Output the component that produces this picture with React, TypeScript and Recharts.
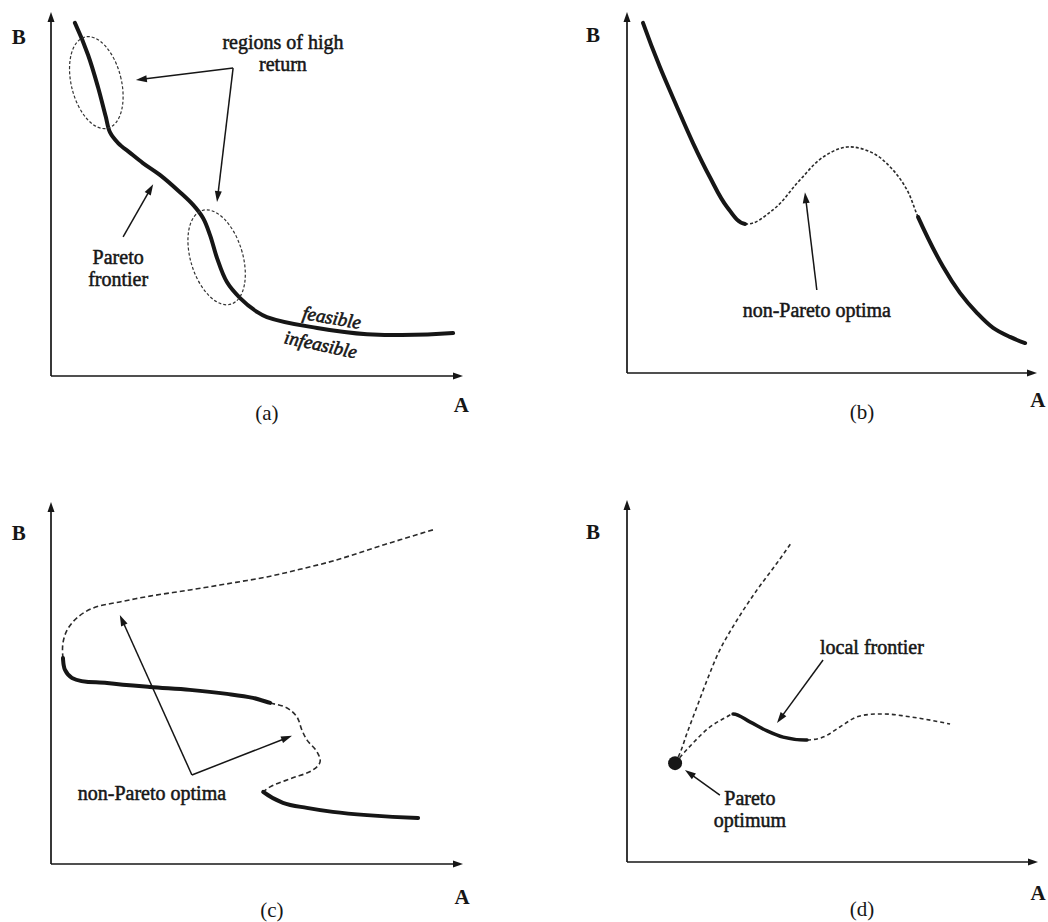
import React from 'react';
import { ComposedChart, Line, Scatter, XAxis, YAxis, ReferenceLine, ReferenceDot } from 'recharts';

// all values in axis units: 0 = origin, 100 = arrow tip of each axis

// (a)
const aFrontier = [
  [5.8, 97.0], [9.0, 88.2], [11.4, 79.4], [13.3, 71.2], [14.3, 67.0], [16.3, 64.0], [19.2, 61.3],
  [22.3, 58.5], [26.5, 55.2], [31.3, 50.5], [34.5, 47.0], [36.9, 43.4], [38.6, 38.7], [40.3, 32.4],
  [42.7, 25.8], [45.9, 21.4], [50.0, 17.6], [52.4, 16.2], [64.6, 13.2], [76.7, 11.5], [97.6, 11.8],
];
const aRegions = [[11.0, 80.6], [40.2, 32.6]];
const aArrows = [
  [[44.2, 84.6], [20.6, 81.3]],
  [[44.2, 84.6], [40.3, 47.8]],
  [[17.5, 38.2], [24.8, 52.7]],
];
const aLabels = [
  { x: -7.8, y: 93.1, text: ['B'], kind: 'axis' },
  { x: 99.6, y: -8.0, text: ['A'], kind: 'axis' },
  { x: 52.4, y: -10.2, text: ['(a)'], kind: 'caption' },
  { x: 56.3, y: 91.8, text: ['regions of high', 'return'], kind: 'note' },
  { x: 16.3, y: 32.7, text: ['Pareto', 'frontier'], kind: 'note' },
  { x: 68.2, y: 16.2, text: ['feasible'], kind: 'side' },
  { x: 65.5, y: 8.8, text: ['infeasible'], kind: 'side2' },
];

// (b) one curve: solid 0-6, dashed 6-14, solid 14-20
const bCurve = [
  [3.9, 97.0], [8.0, 84.8], [12.2, 73.7], [16.1, 63.7], [20.2, 54.3], [24.4, 46.0], [28.8, 41.3],
  [35.6, 45.2], [42.2, 53.5], [47.8, 59.8], [53.7, 62.6], [60.0, 60.9], [64.9, 56.2], [68.3, 50.7], [71.0, 43.2],
  [77.1, 29.4], [81.2, 22.2], [85.4, 16.6], [89.3, 12.5], [93.4, 10.0], [97.1, 8.3],
];
const bSolid = [[0, 6], [14, 20]];
const bDashed = [[6, 14]];
const bArrows = [[[46.3, 23.0], [43.4, 50.1]]];
const bLabels = [
  { x: -8.3, y: 93.6, text: ['B'], kind: 'axis' },
  { x: 100.2, y: -7.5, text: ['A'], kind: 'axis' },
  { x: 57.3, y: -10.8, text: ['(b)'], kind: 'caption' },
  { x: 46.3, y: 17.5, text: ['non-Pareto optima'], kind: 'note' },
];

// (c) upper branch (dashed 0-13), top frontier (solid 13-21), fold (dashed 21-31)
const cCurve = [
  [92.7, 92.3], [80.6, 88.1], [68.4, 83.7], [60.4, 81.4], [52.4, 79.3], [45.9, 78.0], [33.7, 75.7],
  [24.0, 74.0], [16.7, 72.4], [10.2, 70.7], [6.3, 68.0], [3.9, 64.6], [2.9, 61.0], [2.9, 56.9],
  [3.4, 53.6], [5.1, 51.4], [13.6, 50.0], [24.0, 48.9], [33.7, 48.1], [42.7, 47.0], [49.0, 45.9], [53.2, 44.5],
  [57.3, 43.1], [59.7, 40.6], [60.9, 37.0], [62.1, 34.3], [64.6, 30.9], [65.3, 28.2], [63.6, 26.0],
  [58.7, 23.8], [53.2, 21.3], [51.5, 19.9],
];
const cSolid = [[13, 21]];
const cDashed = [[0, 13], [21, 31]];
const cBottom = [[51.5, 19.9], [56.3, 16.9], [62.1, 15.5], [68.4, 14.4], [76.7, 13.5], [89.1, 12.7]];
const cArrows = [
  [[34.2, 24.6], [16.7, 68.8]],
  [[34.2, 24.6], [58.5, 35.4]],
];
const cLabels = [
  { x: -7.8, y: 91.4, text: ['B'], kind: 'axis' },
  { x: 99.8, y: -9.1, text: ['A'], kind: 'axis' },
  { x: 53.6, y: -12.6, text: ['(c)'], kind: 'caption' },
  { x: 24.5, y: 19.6, text: ['non-Pareto optima'], kind: 'note' },
];

// (d)
const dOptimum = [[11.7, 27.3]];
const dUpper = [[11.7, 27.3], [12.9, 30.1], [14.6, 35.6], [17.0, 42.8], [19.5, 50.3], [22.6, 58.6], [26.8, 66.9], [31.6, 75.1], [36.5, 82.6], [40.1, 88.4]];
// lower branch: dashed 0-4, local frontier solid 4-8, dashed 8-14
const dLower = [
  [11.7, 27.3], [16.1, 32.9], [20.2, 37.3], [24.3, 40.1], [25.8, 40.9],
  [29.9, 38.7], [34.1, 36.2], [38.0, 34.5], [43.8, 33.7],
  [47.7, 34.5], [51.8, 37.3], [56.0, 40.1], [62.3, 40.9], [68.9, 40.1], [78.6, 38.1],
];
const dSolid = [[4, 8]];
const dDashed = [[0, 4], [8, 14]];
const dArrows = [
  [[47.7, 55.8], [36.5, 38.4]],
  [[22.6, 18.5], [14.1, 25.4]],
];
const dLabels = [
  { x: -8.3, y: 91.2, text: ['B'], kind: 'axis' },
  { x: 100, y: -8.6, text: ['A'], kind: 'axis' },
  { x: 57.2, y: -13.0, text: ['(d)'], kind: 'caption' },
  { x: 59.6, y: 59.4, text: ['local frontier'], kind: 'note' },
  { x: 29.9, y: 17.7, text: ['Pareto', 'optimum'], kind: 'note' },
];

const FONT = '"Liberation Serif", "Times New Roman", serif';
const INK = '#161616';

const toPts = (arr: number[][]) => arr.map(([x, y]) => ({ x, y }));

const textStyles: Record<string, any> = {
  axis: { fontSize: 21, fontWeight: 700, lh: 22, rotate: 0 },
  caption: { fontSize: 21, fontWeight: 400, lh: 22, rotate: 0 },
  note: { fontSize: 20, fontWeight: 400, lh: 22, rotate: 0, stroke: 0.5 },
  side: { fontSize: 19, fontWeight: 400, italic: true, lh: 20, rotate: 10, stroke: 0.6 },
  side2: { fontSize: 19, fontWeight: 400, italic: true, lh: 20, rotate: 12, stroke: 0.6 },
};

// smooth curve through all points, only drawing the part between point indices from..to
const rangeCurve = (from: number, to: number) => (context: any) => {
  let pts: number[][] = [];
  const unit = (a: number[], b: number[]) => {
    const dx = b[0] - a[0];
    const dy = b[1] - a[1];
    const l = Math.hypot(dx, dy) || 1;
    return [dx / l, dy / l];
  };
  const norm = (v: number[]) => {
    const l = Math.hypot(v[0], v[1]) || 1;
    return [v[0] / l, v[1] / l];
  };
  return {
    areaStart() {},
    areaEnd() {},
    lineStart() {
      pts = [];
    },
    point(x: number, y: number) {
      pts.push([+x, +y]);
    },
    lineEnd() {
      const n = pts.length;
      if (n < 2) return;
      const T: number[][] = new Array(n);
      for (let i = 1; i < n - 1; i++) {
        const u1 = unit(pts[i - 1], pts[i]);
        const u2 = unit(pts[i], pts[i + 1]);
        T[i] = norm([u1[0] + u2[0], u1[1] + u2[1]]);
      }
      if (n === 2) {
        T[0] = unit(pts[0], pts[1]);
        T[1] = T[0];
      } else {
        const c0 = unit(pts[0], pts[1]);
        T[0] = norm([2 * c0[0] - T[1][0], 2 * c0[1] - T[1][1]]);
        const cn = unit(pts[n - 2], pts[n - 1]);
        T[n - 1] = norm([2 * cn[0] - T[n - 2][0], 2 * cn[1] - T[n - 2][1]]);
      }
      const a = Math.max(0, from);
      const b = Math.min(n - 1, to);
      context.moveTo(pts[a][0], pts[a][1]);
      for (let i = a; i < b; i++) {
        const p = pts[i];
        const q = pts[i + 1];
        const d = Math.hypot(q[0] - p[0], q[1] - p[1]) / 3;
        context.bezierCurveTo(p[0] + T[i][0] * d, p[1] + T[i][1] * d, q[0] - T[i + 1][0] * d, q[1] - T[i + 1][1] * d, q[0], q[1]);
      }
    },
  };
};

const arrowShape = (head: number, width: number, sw: number) => (p: any) => {
  const { x1, y1, x2, y2 } = p;
  const dx = x2 - x1;
  const dy = y2 - y1;
  const len = Math.hypot(dx, dy) || 1;
  const ux = dx / len;
  const uy = dy / len;
  const bx = x2 - ux * head;
  const by = y2 - uy * head;
  const px = (-uy * width) / 2;
  const py = (ux * width) / 2;
  return (
    <g>
      <line x1={x1} y1={y1} x2={bx + ux} y2={by + uy} stroke={INK} strokeWidth={sw} />
      <polygon points={`${x2},${y2} ${bx + px},${by + py} ${bx - px},${by - py}`} fill={INK} />
    </g>
  );
};

const labelShape = (text: string[], kind: string) => (p: any) => {
  const s = textStyles[kind];
  const { cx, cy } = p;
  return (
    <text
      x={cx}
      y={cy}
      textAnchor="middle"
      dominantBaseline="central"
      fontFamily={FONT}
      fontSize={s.fontSize}
      fontWeight={s.fontWeight}
      fontStyle={s.italic ? 'italic' : 'normal'}
      fill={INK}
      stroke={s.stroke ? INK : 'none'}
      strokeWidth={s.stroke || 0}
      transform={s.rotate ? `rotate(${s.rotate} ${cx} ${cy})` : undefined}
    >
      {text.map((t, i) => (
        <tspan key={i} x={cx} dy={i === 0 ? 0 : s.lh}>
          {t}
        </tspan>
      ))}
    </text>
  );
};

const curveParts = (
  prefix: string,
  pts: number[][],
  solidRanges: number[][],
  dashRanges: number[][],
  opts: { w?: number; dash?: string } = {},
) => {
  const data = toPts(pts);
  return [
    ...dashRanges.map(([f, t], i) => (
      <Line
        key={`${prefix}-d${i}`}
        data={data}
        dataKey="y"
        type={rangeCurve(f, t) as any}
        stroke="#2a2a2a"
        strokeWidth={1.6}
        strokeDasharray={opts.dash || '4 3'}
        dot={false}
        activeDot={false}
        isAnimationActive={false}
      />
    )),
    ...solidRanges.map(([f, t], i) => (
      <Line
        key={`${prefix}-s${i}`}
        data={data}
        dataKey="y"
        type={rangeCurve(f, t) as any}
        stroke={INK}
        strokeWidth={opts.w || 4}
        strokeLinecap="round"
        dot={false}
        activeDot={false}
        isAnimationActive={false}
      />
    )),
  ];
};

const arrows = (prefix: string, list: number[][][]) =>
  list.map(([[x1, y1], [x2, y2]], i) => (
    <ReferenceLine
      key={`${prefix}-arr-${i}`}
      segment={[{ x: x1, y: y1 }, { x: x2, y: y2 }]}
      ifOverflow="visible"
      shape={arrowShape(11, 7, 1.5)}
    />
  ));

const labels = (prefix: string, list: { x: number; y: number; text: string[]; kind: string }[]) =>
  list.map((l, i) => (
    <ReferenceDot
      key={`${prefix}-lab-${i}`}
      x={l.x}
      y={l.y}
      r={1}
      ifOverflow="visible"
      shape={labelShape(l.text, l.kind)}
    />
  ));

const axes = (prefix: string) => [
  <ReferenceLine
    key={`${prefix}-xaxis`}
    segment={[{ x: 0, y: 0 }, { x: 100, y: 0 }]}
    ifOverflow="visible"
    shape={arrowShape(10, 7, 1.7)}
  />,
  <ReferenceLine
    key={`${prefix}-yaxis`}
    segment={[{ x: 0, y: 0 }, { x: 0, y: 100 }]}
    ifOverflow="visible"
    shape={arrowShape(10, 7, 1.7)}
  />,
];

const ellipseStyles = [
  { rx: 25, ry: 47, rot: -14 },
  { rx: 26, ry: 49, rot: -17 },
];

const panels = [
  { left: 0, top: 0, w: 524, h: 461, margin: { top: 12, right: 61, bottom: 85, left: 51 } },
  { left: 524, top: 0, w: 524, h: 461, margin: { top: 12, right: 11, bottom: 88, left: 103 } },
  { left: 0, top: 461, w: 524, h: 461, margin: { top: 41, right: 61, bottom: 58, left: 51 } },
  { left: 524, top: 461, w: 524, h: 461, margin: { top: 39, right: 10, bottom: 60, left: 103 } },
];

const Panel = ({ idx, children }: { idx: number; children: React.ReactNode }) => {
  const p = panels[idx];
  return (
    <div style={{ position: 'absolute', left: p.left, top: p.top }}>
      <ComposedChart width={p.w} height={p.h} margin={p.margin}>
        <XAxis type="number" dataKey="x" domain={[0, 100]} hide />
        <YAxis type="number" domain={[0, 100]} hide />
        {children}
      </ComposedChart>
    </div>
  );
};

export default function App() {
  return (
    <div style={{ position: 'absolute', left: 0, top: 0, width: 1048, height: 922, background: '#fff' }}>
      <Panel idx={0}>
        {axes('a')}
        {aRegions.map(([x, y], i) => (
          <Scatter
            key={`a-reg-${i}`}
            data={[{ x, y }]}
            dataKey="y"
            isAnimationActive={false}
            shape={(p: any) => {
              const s = ellipseStyles[i];
              return (
                <ellipse
                  cx={p.cx}
                  cy={p.cy}
                  rx={s.rx}
                  ry={s.ry}
                  transform={`rotate(${s.rot} ${p.cx} ${p.cy})`}
                  fill="none"
                  stroke="#333"
                  strokeWidth={1.2}
                  strokeDasharray="3 2"
                />
              );
            }}
          />
        ))}
        {curveParts('a', aFrontier, [[0, aFrontier.length - 1]], [])}
        {arrows('a', aArrows)}
        {labels('a', aLabels)}
      </Panel>

      <Panel idx={1}>
        {axes('b')}
        {curveParts('b', bCurve, bSolid, bDashed, { dash: '3 2' })}
        {arrows('b', bArrows)}
        {labels('b', bLabels)}
      </Panel>

      <Panel idx={2}>
        {axes('c')}
        {curveParts('c', cCurve, cSolid, cDashed, { dash: '5 3' })}
        {curveParts('cb', cBottom, [[0, cBottom.length - 1]], [])}
        {arrows('c', cArrows)}
        {labels('c', cLabels)}
      </Panel>

      <Panel idx={3}>
        {axes('d')}
        {curveParts('du', dUpper, [], [[0, dUpper.length - 1]])}
        {curveParts('dl', dLower, dSolid, dDashed, { w: 3.5 })}
        <Scatter
          data={toPts(dOptimum)}
          dataKey="y"
          isAnimationActive={false}
          shape={(p: any) => <circle cx={p.cx} cy={p.cy} r={7} fill={INK} />}
        />
        {arrows('d', dArrows)}
        {labels('d', dLabels)}
      </Panel>
    </div>
  );
}
